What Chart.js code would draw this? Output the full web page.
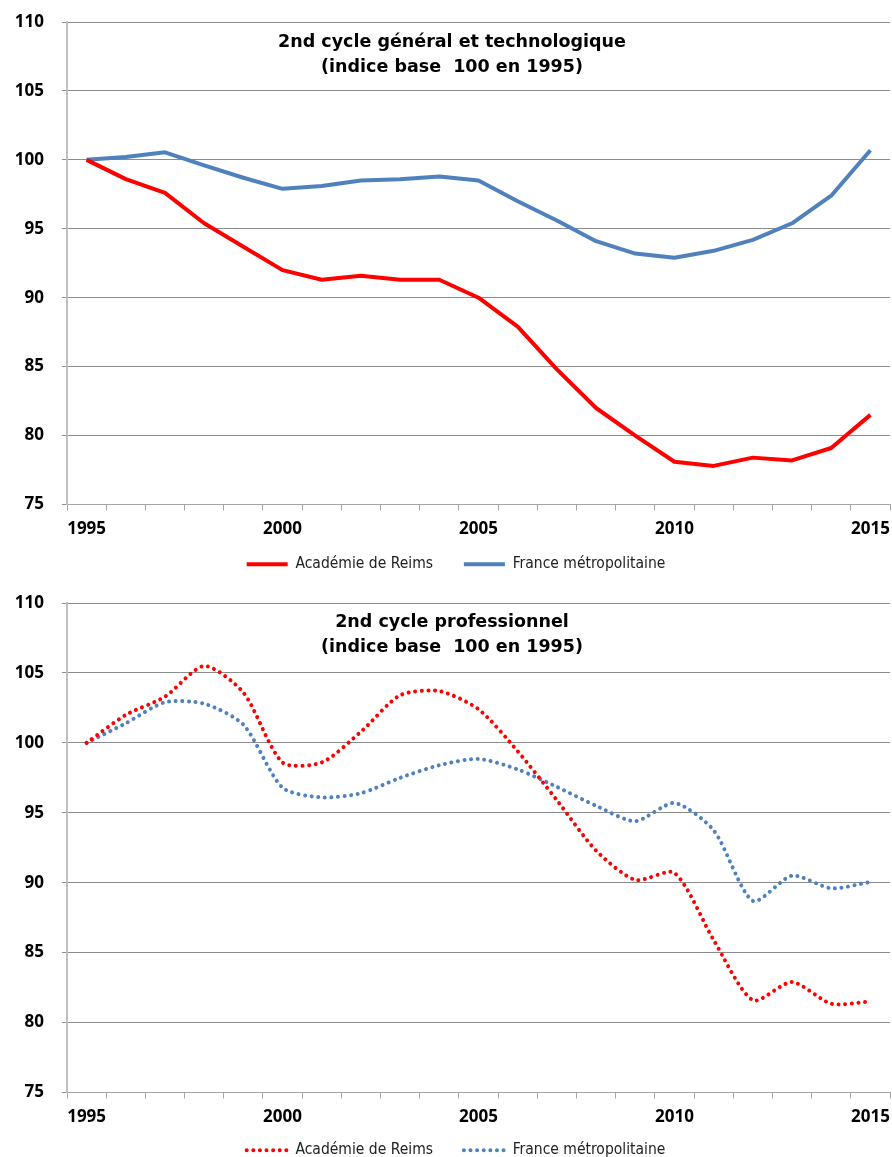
<!DOCTYPE html>
<html lang="fr">
<head>
<meta charset="utf-8">
<title>Indice des effectifs du 2nd cycle</title>
<script src="https://cdn.jsdelivr.net/npm/chart.js@4.4.1/dist/chart.umd.min.js"></script>
<style>
  html, body { margin: 0; padding: 0; background: #fff; }
  body { width: 892px; height: 1157px; position: relative; overflow: hidden; }
  .panel { position: absolute; left: 0; width: 892px; }
  .ttl {
    position: absolute; left: 0; width: 904px; text-align: center;
    font: bold 17.5px "DejaVu Sans", sans-serif; line-height: 25px;
    color: #000; white-space: pre; pointer-events: none;
  }
</style>
</head>
<body>
<div class="panel" style="top:0;height:582px">
  <canvas id="chartGT"></canvas>
  <div class="ttl" style="top:29px">2nd cycle général et technologique
(indice base  100 en 1995)</div>
</div>
<!-- le bas du 2e graphique dépasse un peu de la page, comme dans l'original -->
<div class="panel" style="top:580px;height:588px">
  <canvas id="chartPro"></canvas>
  <div class="ttl" style="top:29px">2nd cycle professionnel
(indice base  100 en 1995)</div>
</div>
<script>
// années (axe des catégories)
const years = ["1995", "1996", "1997", "1998", "1999", "2000", "2001", "2002", "2003", "2004",
  "2005", "2006", "2007", "2008", "2009", "2010", "2011", "2012", "2013", "2014", "2015"];
const yTicks = [75, 80, 85, 90, 95, 100, 105, 110];

// 2nd cycle général et technologique
const reimsGT = [100, 98.6, 97.6, 95.4, 93.7, 92.0, 91.3, 91.6, 91.3, 91.3,
  90.0, 87.9, 84.8, 82.0, 80.0, 78.1, 77.8, 78.4, 78.2, 79.1, 81.5];
const franceGT = [100, 100.2, 100.55, 99.6, 98.7, 97.9, 98.1, 98.5, 98.6, 98.8,
  98.5, 97.0, 95.6, 94.1, 93.2, 92.9, 93.4, 94.2, 95.4, 97.4, 100.7];

// 2nd cycle professionnel
const reimsPro = [100, 102.0, 103.3, 105.5, 103.6, 98.6, 98.6, 100.8, 103.4, 103.7,
  102.4, 99.4, 95.9, 92.3, 90.2, 90.7, 85.9, 81.6, 82.9, 81.35, 81.5];
const francePro = [100, 101.4, 102.9, 102.8, 101.3, 96.8, 96.1, 96.4, 97.5, 98.4,
  98.85, 98.1, 96.85, 95.5, 94.4, 95.7, 93.75, 88.7, 90.5, 89.6, 90.05];

const RED = "#ff0000", BLUE = "#4f81bd";
const TICK_FONT = { family: "'Open Sans', sans-serif", size: 17, weight: "bold" };
const LEG_FONT = { family: "'DejaVu Sans Condensed', 'Liberation Sans Narrow', sans-serif", size: 15.5 };

// la légende d'Excel est un peu décalée vers la droite
const legendShift = {
  id: "legendShift",
  afterLayout(chart) {
    if (!chart.legend) return;
    chart.legend.left += 11;
    chart.legend.right += 11;
  },
};

function series(label, data, color, dotted) {
  return {
    label, data,
    borderColor: color, backgroundColor: color,
    borderWidth: 4,
    borderDash: dotted ? [0.01, 6.6] : [],
    borderCapStyle: dotted ? "round" : "butt",
    borderJoinStyle: "round",
    tension: dotted ? 0.25 : 0,
    pointRadius: 0, pointHoverRadius: 0,
  };
}

function makeChart(id, datasets, padTop, axisH) {
  return new Chart(document.getElementById(id), {
    type: "line",
    data: { labels: years, datasets },
    plugins: [legendShift],
    options: {
      responsive: true, maintainAspectRatio: false, animation: false,
      layout: { padding: { top: padTop, right: 2, bottom: 0, left: 0 } },
      plugins: {
        tooltip: { enabled: false },
        legend: {
          position: "bottom",
          labels: {
            usePointStyle: true, pointStyleWidth: 41, boxHeight: 10, padding: 10,
            color: "#222", font: LEG_FONT,
            // espace après le 1er libellé pour écarter les deux entrées
            generateLabels: (chart) => chart.data.datasets.map((ds, i) => ({
              text: i === 0 ? ds.label + "\u2003\u2002" : ds.label,
              datasetIndex: i, hidden: false,
              fillStyle: ds.borderColor, strokeStyle: ds.borderColor,
              lineWidth: ds.borderWidth, lineDash: ds.borderDash, lineCap: ds.borderCapStyle,
              pointStyle: "line", fontColor: "#222",
            })),
          },
        },
      },
      scales: {
        x: {
          offset: true,
          afterFit: (s) => { s.height = axisH; s.paddingLeft = 0; s.paddingRight = 0; },
          grid: { offset: true, drawOnChartArea: false, drawTicks: true, tickLength: 6, color: "#a6a6a6" },
          border: { color: "#a6a6a6", width: 1 },
          ticks: {
            autoSkip: false, maxRotation: 0, color: "#000", font: TICK_FONT, padding: 8,
            callback: (v, i) => (i % 5 === 0 ? years[i] : ""),
          },
        },
        y: {
          min: 75, max: 110,
          afterFit: (s) => { s.width = 67; s.paddingTop = 0; s.paddingBottom = 0; },
          afterBuildTicks: (s) => { s.ticks = yTicks.map((v) => ({ value: v })); },
          grid: { color: "#8c8c8c", tickLength: 5, tickColor: "#8c8c8c" },
          border: { color: "#c0c0c0", width: 2 },
          ticks: { color: "#000", font: TICK_FONT, padding: 18 },
        },
      },
    },
  });
}

makeChart("chartGT", [
  series("Académie de Reims", reimsGT, RED, false),
  series("France métropolitaine", franceGT, BLUE, false),
], 22, 42);

makeChart("chartPro", [
  series("Académie de Reims", reimsPro, RED, true),
  series("France métropolitaine", francePro, BLUE, true),
], 23, 40);
</script>
</body>
</html>
